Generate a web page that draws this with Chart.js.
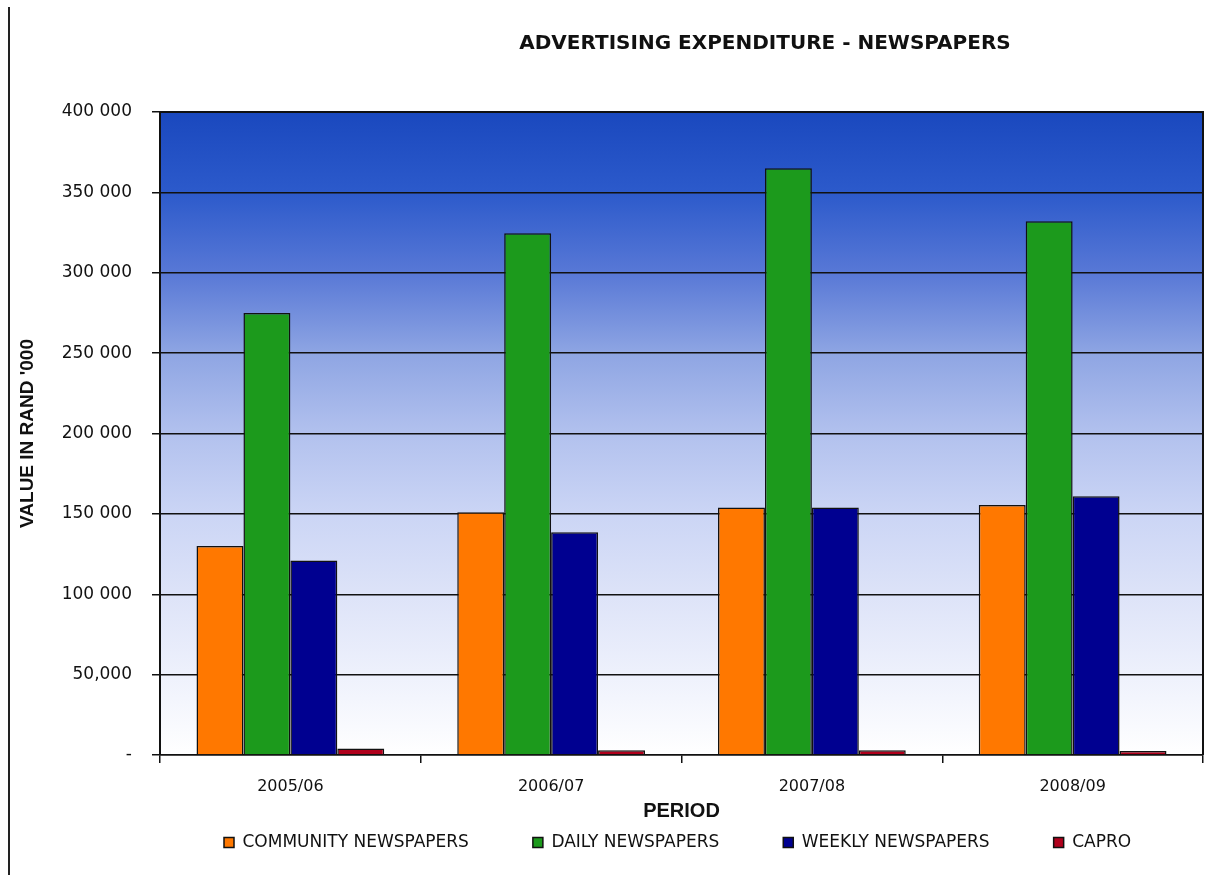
<!DOCTYPE html>
<html>
<head>
<meta charset="utf-8">
<script src="https://cdn.jsdelivr.net/npm/chart.js"></script>
<style>
  body { margin: 0; background: #fff; }
  #wrap { position: relative; width: 1216px; height: 875px; }
  #edge { position: absolute; left: 8px; top: 7px; width: 2px; height: 868px; background: #222; }
</style>
</head>
<body>
<div id="wrap">
  <canvas id="grafico" width="1216" height="875"></canvas>
  <div id="edge"></div>
</div>
<script>
const periodos = ['2005/06', '2006/07', '2007/08', '2008/09'];
const community = [130000, 151000, 154000, 155500];
const daily = [275000, 324500, 365000, 332000];
const weekly = [121000, 138500, 154000, 161000];
const capro = [4000, 3000, 3000, 2500];
const yTickLabels = ['-', '50,000', '100 000', '150 000', '200 000', '250 000', '300 000', '350 000', '400 000'];

const fuente = '"DejaVu Sans", "Liberation Sans", sans-serif';
const fuenteArial = '"Liberation Sans", Arial, sans-serif';

// fondo degradado del area del grafico + borde superior/derecho
const fondoPlugin = {
  id: 'fondo',
  beforeDraw(chart) {
    const { ctx, chartArea: a } = chart;
    const g = ctx.createLinearGradient(0, a.top, 0, a.bottom);
    g.addColorStop(0, '#1a48be');
    g.addColorStop(0.125, '#2c5acb');
    g.addColorStop(0.25, '#5878d6');
    g.addColorStop(0.375, '#8ea5e3');
    g.addColorStop(0.5, '#b2c1ee');
    g.addColorStop(0.625, '#cbd5f5');
    g.addColorStop(0.75, '#dde3f8');
    g.addColorStop(0.875, '#eef1fc');
    g.addColorStop(1, '#ffffff');
    ctx.save();
    ctx.fillStyle = g;
    ctx.fillRect(a.left, a.top, a.right - a.left, a.bottom - a.top);
    ctx.restore();
  },
  beforeDatasetsDraw(chart) {
    const { ctx, chartArea: a } = chart;
    ctx.save();
    ctx.strokeStyle = '#111';
    ctx.lineWidth = 2;
    ctx.beginPath();
    ctx.moveTo(a.left, a.top);
    ctx.lineTo(a.right, a.top);
    ctx.lineTo(a.right, a.bottom);
    ctx.stroke();
    ctx.restore();
  }
};

// la leyenda usa mucho padding horizontal (que tambien es vertical); la subimos
const leyendaPlugin = {
  id: 'subirLeyenda',
  afterLayout(chart) {
    const l = chart.legend;
    if (!l) return;
    l.top -= 30;
    l.bottom -= 30;
  }
};

// titulo (desplazado a la derecha como en el original)
const tituloPlugin = {
  id: 'titulo',
  afterDraw(chart) {
    const { ctx } = chart;
    ctx.save();
    ctx.font = 'bold 20px ' + fuente;
    ctx.fillStyle = '#111';
    ctx.textAlign = 'center';
    ctx.textBaseline = 'middle';
    ctx.fillText('ADVERTISING EXPENDITURE - NEWSPAPERS', 765, 44);
    ctx.restore();
  }
};

new Chart(document.getElementById('grafico'), {
  type: 'bar',
  data: {
    labels: periodos,
    datasets: [
      { label: 'COMMUNITY NEWSPAPERS', data: community, backgroundColor: '#ff7800' },
      { label: 'DAILY NEWSPAPERS', data: daily, backgroundColor: '#1c9a1c' },
      { label: 'WEEKLY NEWSPAPERS', data: weekly, backgroundColor: '#000090' },
      { label: 'CAPRO', data: capro, backgroundColor: '#b0001c' }
    ]
  },
  options: {
    responsive: false,
    animation: false,
    layout: { padding: { top: 112, right: 13, left: 0, bottom: -16 } },
    datasets: {
      bar: {
        borderColor: '#111',
        borderWidth: 1.5,
        categoryPercentage: 0.72,
        barPercentage: 1
      }
    },
    scales: {
      x: {
        afterFit(scale) { scale.height = 45; },
        grid: { display: true, drawOnChartArea: false, offset: true, color: '#111', lineWidth: 1.5, tickLength: 8 },
        border: { color: '#111', width: 1.5 },
        ticks: { color: '#111', padding: 14, font: { family: fuente, size: 16 } },
        title: {
          display: true,
          text: 'PERIOD',
          color: '#111',
          font: { family: fuenteArial, size: 20, weight: 'bold' },
          padding: { top: 0, bottom: -23 }
        }
      },
      y: {
        min: 0,
        max: 400000,
        afterFit(scale) { scale.width = 160; },
        grid: { color: '#111', lineWidth: 1.5, tickLength: 8 },
        border: { color: '#111', width: 2 },
        ticks: {
          stepSize: 50000,
          color: '#111',
          padding: 20,
          font: { family: fuente, size: 17 },
          callback: (v) => yTickLabels[Math.round(v / 50000)]
        },
        title: {
          display: true,
          text: "VALUE IN RAND '000",
          color: '#111',
          font: { family: fuenteArial, size: 19, weight: 'bold' },
          padding: { top: 16, bottom: 0 }
        }
      }
    },
    plugins: {
      title: { display: false },
      tooltip: { enabled: false },
      legend: {
        position: 'bottom',
        fullSize: false,
        align: 'start',
        labels: {
          color: '#111',
          boxWidth: 10,
          boxHeight: 10,
          padding: 64,
          font: { family: fuente, size: 17 }
        }
      }
    }
  },
  plugins: [fondoPlugin, leyendaPlugin, tituloPlugin]
});
</script>
</body>
</html>
